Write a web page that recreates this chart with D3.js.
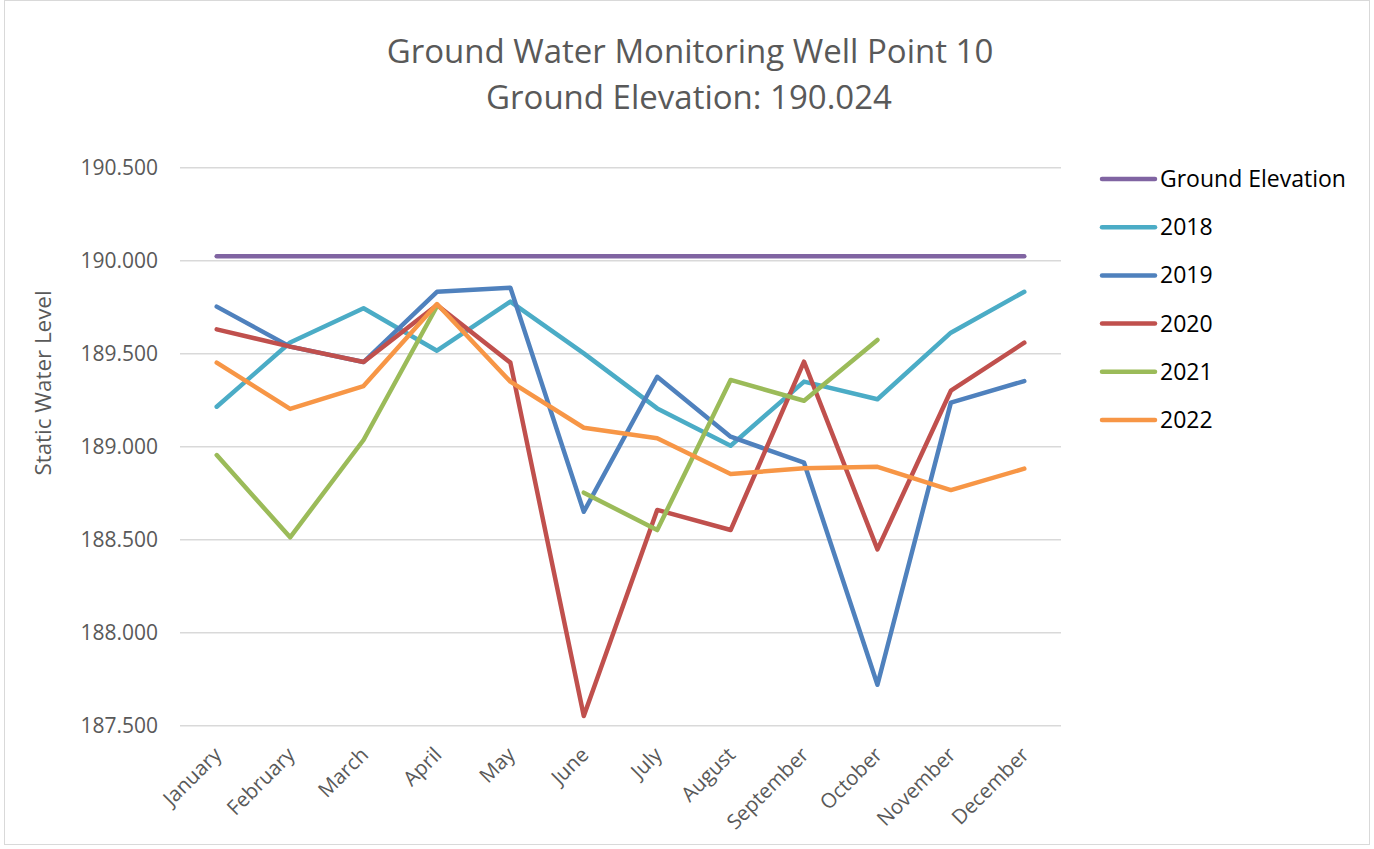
<!DOCTYPE html>
<html>
<head>
<meta charset="utf-8">
<script src="https://cdn.jsdelivr.net/npm/d3@7"></script>
<style>
  html, body { margin: 0; padding: 0; background: #fff; }
  svg text { font-family: "Open Sans", "Noto Sans", sans-serif; }
</style>
</head>
<body>
<svg id="chart" width="1374" height="849"></svg>
<script>
// Monthly static water level readings, well point 10
const months = ['January', 'February', 'March', 'April', 'May', 'June',
  'July', 'August', 'September', 'October', 'November', 'December'];
const groundElevation = 190.024;
const yTicks = [187.5, 188.0, 188.5, 189.0, 189.5, 190.0, 190.5];

const level2018 = [189.215, 189.56, 189.744, 189.516, 189.78, 189.502, 189.206, 189.005, 189.35, 189.255, 189.613, 189.833];
const level2019 = [189.753, 189.538, 189.455, 189.833, 189.855, 188.65, 189.376, 189.054, 188.914, 187.72, 189.237, 189.353];
const level2020 = [189.631, 189.538, 189.455, 189.762, 189.452, 187.552, 188.66, 188.552, 189.457, 188.448, 189.301, 189.559];
const level2021 = [188.955, 188.513, 189.036, 189.755, null, 188.753, 188.552, 189.359, 189.247, 189.574, null, null];
const level2022 = [189.452, 189.203, 189.326, 189.767, 189.35, 189.102, 189.045, 188.853, 188.884, 188.892, 188.767, 188.882];

const series = [
  { name: 'Ground Elevation', color: '#8064A2', values: months.map(() => groundElevation) },
  { name: '2018', color: '#4BACC6', values: level2018 },
  { name: '2019', color: '#4F81BD', values: level2019 },
  { name: '2020', color: '#C0504D', values: level2020 },
  { name: '2021', color: '#9BBB59', values: level2021 },
  { name: '2022', color: '#F79646', values: level2022 },
];

const svg = d3.select('#chart');

// outer chart border
svg.append('rect')
  .attr('x', 4.5).attr('y', 0.5)
  .attr('width', 1365).attr('height', 844)
  .attr('fill', '#fff')
  .attr('stroke', '#d9d9d9');

const x = d3.scalePoint().domain(months).range([180, 1061]).padding(0.5);
const y = d3.scaleLinear().domain([187.5, 190.5]).range([725.7, 167.7]);

// gridlines
svg.append('g')
  .selectAll('line')
  .data(yTicks)
  .join('line')
  .attr('x1', 180).attr('x2', 1061)
  .attr('y1', d => y(d)).attr('y2', d => y(d))
  .attr('stroke', '#d9d9d9')
  .attr('stroke-width', 1.5);

// y tick labels
svg.append('g')
  .selectAll('text')
  .data(yTicks)
  .join('text')
  .attr('x', 158)
  .attr('y', d => y(d))
  .attr('dy', '0.35em')
  .attr('text-anchor', 'end')
  .attr('fill', '#595959')
  .style('font-size', '21px')
  .text(d => d3.format('.3f')(d));

// x tick labels, rotated
svg.append('g')
  .selectAll('text')
  .data(months)
  .join('text')
  .attr('transform', d => `translate(${x(d) + 6},${756}) rotate(-45)`)
  .attr('text-anchor', 'end')
  .attr('fill', '#595959')
  .style('font-size', '20.5px')
  .text(d => d);

// axis title
svg.append('text')
  .attr('transform', 'translate(51,383) rotate(-90)')
  .attr('text-anchor', 'middle')
  .attr('fill', '#595959')
  .style('font-size', '22.4px')
  .text('Static Water Level');

// title
const title = svg.append('text')
  .attr('text-anchor', 'middle')
  .attr('fill', '#595959')
  .style('font-size', '33px');
title.append('tspan').attr('x', 690).attr('y', 63).text('Ground Water Monitoring Well Point 10');
title.append('tspan').attr('x', 689).attr('y', 109).text('Ground Elevation: ' + groundElevation.toFixed(3));

// lines
const line = d3.line()
  .defined(d => d.v !== null)
  .x(d => x(d.m))
  .y(d => y(d.v));

svg.append('g')
  .selectAll('path')
  .data(series)
  .join('path')
  .attr('d', s => line(s.values.map((v, i) => ({ m: months[i], v }))))
  .attr('fill', 'none')
  .attr('stroke', s => s.color)
  .attr('stroke-width', 4.5)
  .attr('stroke-linejoin', 'round')
  .attr('stroke-linecap', 'round');

// legend
const legend = svg.append('g')
  .selectAll('g')
  .data(series)
  .join('g')
  .attr('transform', (d, i) => `translate(1102,${179 + i * 48.2})`);

legend.append('line')
  .attr('x1', 0).attr('x2', 53)
  .attr('stroke', d => d.color)
  .attr('stroke-width', 4.5)
  .attr('stroke-linecap', 'round');

legend.append('text')
  .attr('x', 58)
  .attr('dy', '0.35em')
  .attr('fill', '#000')
  .style('font-size', '23px')
  .text(d => d.name);
</script>
</body>
</html>
